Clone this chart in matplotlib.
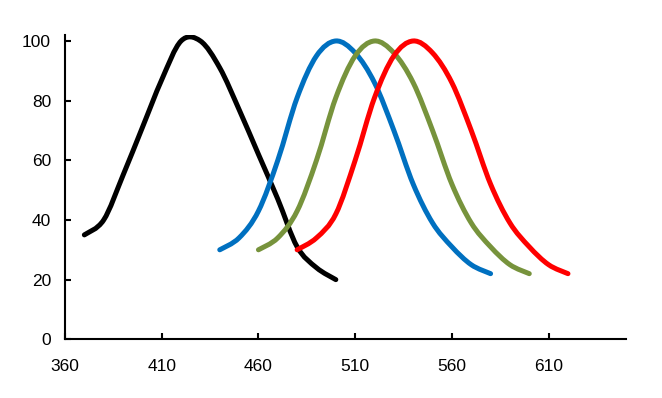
import matplotlib.pyplot as plt
from matplotlib.path import Path
from matplotlib.patches import PathPatch

plt.rcParams['font.family'] = ['Liberation Sans', 'DejaVu Sans']

# wavelengths (nm) and response values
black_x = [370, 380, 390, 400, 410, 420, 430, 440, 450, 460, 470, 480, 490, 500]
black_y = [35, 40, 55, 71, 87, 100, 100, 91, 77, 62, 47, 31, 24, 20]

blue_x = [440, 450, 460, 470, 480, 490, 500, 510, 520, 530, 540, 550, 560, 570, 580]
blue_y = [30, 34, 43, 60, 81, 95, 100, 96, 86, 70, 52, 39, 31, 25, 22]

green_x = [460, 470, 480, 490, 500, 510, 520, 530, 540, 550, 560, 570, 580, 590, 600]
green_y = [30, 34, 43, 60, 81, 95, 100, 96, 86, 70, 52, 39, 31, 25, 22]

red_x = [480, 490, 500, 510, 520, 530, 540, 550, 560, 570, 580, 590, 600, 610, 620]
red_y = [30, 34, 42, 60, 81, 95, 100, 96, 86, 70, 52, 39, 31, 25, 22]

x_ticks = [360, 410, 460, 510, 560, 610]
y_ticks = [0, 20, 40, 60, 80, 100]


def smooth_path(xs, ys):
    # Excel-style smoothed line: Catmull-Rom segments as cubic Bezier curves
    pts = list(zip(xs, ys))
    verts = [pts[0]]
    codes = [Path.MOVETO]
    n = len(pts)
    for i in range(n - 1):
        p0 = pts[i - 1] if i > 0 else pts[i]
        p1 = pts[i]
        p2 = pts[i + 1]
        p3 = pts[i + 2] if i + 2 < n else pts[i + 1]
        c1 = (p1[0] + (p2[0] - p0[0]) / 6, p1[1] + (p2[1] - p0[1]) / 6)
        c2 = (p2[0] - (p3[0] - p1[0]) / 6, p2[1] - (p3[1] - p1[1]) / 6)
        verts += [c1, c2, p2]
        codes += [Path.CURVE4] * 3
    return Path(verts, codes)


fig = plt.figure(figsize=(6.62, 3.98), dpi=100)
ax = fig.add_axes([65 / 662, 58.7 / 398, 561 / 662, 304.3 / 398])

for xs, ys, col in [(black_x, black_y, 'black'),
                    (blue_x, blue_y, '#0070C0'),
                    (green_x, green_y, '#77933C'),
                    (red_x, red_y, '#FF0000')]:
    ax.add_patch(PathPatch(smooth_path(xs, ys), facecolor='none',
                           edgecolor=col, lw=3.6, capstyle='round'))

ax.set_xlim(360, 650)
ax.set_ylim(0, 102)
ax.set_xticks(x_ticks)
ax.set_yticks(y_ticks)
ax.spines['top'].set_visible(False)
ax.spines['right'].set_visible(False)
for s in ['left', 'bottom']:
    ax.spines[s].set_linewidth(1.5)
ax.tick_params(direction='in', length=4, width=1.5, labelsize=12.5)
ax.tick_params(axis='x', pad=14)
ax.tick_params(axis='y', pad=10)

fig.savefig('out.png', dpi=100)
